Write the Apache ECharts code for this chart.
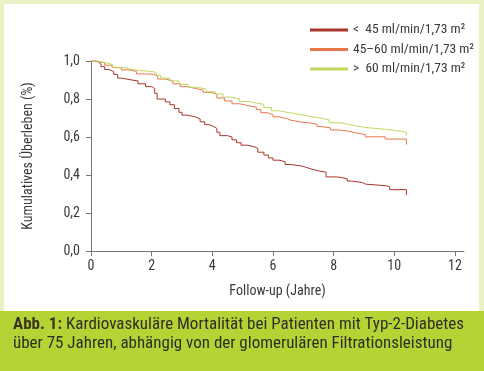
<!DOCTYPE html>
<html>
<head>
<meta charset="utf-8">
<script src="https://cdn.jsdelivr.net/npm/echarts@6/dist/echarts.min.js"></script>
<style>
html,body{margin:0;padding:0;background:#ecf1c4;}
#c{width:484px;height:371px;}
</style>
</head>
<body>
<div id="c"></div>
<script>
var seriesNames = ['<  45 ml/min/1,73 m²', '45–60 ml/min/1,73 m²', '>  60 ml/min/1,73 m²'];
var xTicks = [0, 2, 4, 6, 8, 10, 12];
var redData = [[0,1.0],[0.1,0.995],[0.25,0.985],[0.33,0.97],[0.45,0.955],[0.6,0.945],[0.75,0.93],[0.88,0.91],[1.0,0.9],[1.35,0.895],[1.55,0.88],[1.8,0.865],[2.0,0.855],[2.1,0.83],[2.18,0.80],[2.45,0.785],[2.6,0.77],[2.75,0.75],[2.9,0.73],[3.0,0.715],[3.2,0.705],[3.45,0.695],[3.6,0.68],[3.75,0.665],[3.9,0.655],[4.05,0.645],[4.15,0.625],[4.25,0.607],[4.5,0.6],[4.65,0.585],[4.8,0.57],[4.95,0.557],[5.15,0.548],[5.4,0.54],[5.5,0.52],[5.7,0.505],[5.85,0.49],[6.0,0.478],[6.2,0.47],[6.4,0.455],[6.6,0.447],[6.95,0.44],[7.1,0.43],[7.3,0.42],[7.55,0.415],[7.75,0.39],[8.1,0.387],[8.25,0.38],[8.45,0.368],[8.6,0.36],[8.95,0.352],[9.05,0.343],[9.75,0.338],[9.85,0.323],[10.4,0.295]];
var orangeData = [[0,1.0],[0.2,0.99],[0.45,0.978],[0.7,0.965],[1.0,0.953],[1.25,0.945],[1.5,0.932],[1.8,0.93],[2.05,0.922],[2.2,0.905],[2.45,0.895],[2.7,0.88],[2.95,0.865],[3.2,0.855],[3.45,0.847],[3.7,0.835],[3.95,0.825],[4.15,0.805],[4.4,0.79],[4.65,0.775],[4.9,0.766],[5.15,0.757],[5.45,0.745],[5.6,0.728],[5.8,0.718],[6.0,0.706],[6.2,0.697],[6.45,0.688],[6.6,0.68],[6.9,0.673],[7.25,0.667],[7.45,0.655],[7.6,0.648],[7.9,0.637],[8.2,0.63],[8.5,0.62],[8.8,0.612],[9.05,0.601],[9.7,0.589],[10.4,0.56]];
var greenData = [[0,1.0],[0.2,0.992],[0.45,0.982],[0.7,0.967],[1.0,0.958],[1.3,0.95],[1.6,0.946],[1.95,0.94],[2.15,0.925],[2.3,0.91],[2.6,0.895],[2.9,0.877],[3.2,0.862],[3.5,0.852],[3.8,0.838],[4.1,0.826],[4.35,0.81],[4.6,0.8],[4.9,0.787],[5.2,0.778],[5.45,0.772],[5.7,0.755],[5.95,0.738],[6.2,0.73],[6.45,0.724],[6.7,0.716],[6.95,0.708],[7.25,0.7],[7.55,0.69],[7.85,0.675],[8.2,0.665],[8.55,0.657],[8.8,0.65],[9.05,0.64],[9.75,0.632],[10.1,0.626],[10.4,0.607]];
var colors = ['#a8352b', '#e9774c', '#bfd85e'];
var FONT = '"Roboto Condensed", "Liberation Sans", sans-serif';

var chart = echarts.init(document.getElementById('c'), null, {renderer: 'canvas'});
function mk(name, data, color) {
  return {name: name, type: 'line', step: 'end', data: data, showSymbol: false, symbol: 'none',
    lineStyle: {color: color, width: 1}, itemStyle: {color: color}, animation: false, z: 3};
}
chart.setOption({
  animation: false,
  backgroundColor: '#ecf1c4',
  graphic: [
    {type: 'rect', shape: {x: 4, y: 4, width: 475, height: 308}, style: {fill: '#ffffff'}, z: -10, silent: true},
    {type: 'rect', shape: {x: 0, y: 311, width: 484, height: 60}, style: {fill: '#b5d335'}, z: -10, silent: true},
    {type: 'text', left: 13, top: 315, z: 10, style: {
      text: '{b|Abb. 1:} Kardiovaskuläre Mortalität bei Patienten mit Typ-2-Diabetes\nüber 75 Jahren, abhängig von der glomerulären Filtrationsleistung',
      font: '17px ' + FONT, fill: '#2f2f25', lineHeight: 19,
      rich: {b: {fontWeight: 'bold', fontSize: 17, fontFamily: FONT, fill: '#3a351a', lineHeight: 19}}
    }}
  ],
  grid: {left: 91, right: 20, top: 61, bottom: 120},
  legend: {
    orient: 'vertical', left: 305, top: 17, itemWidth: 38, itemHeight: 3, itemGap: 3.5,
    icon: 'rect', data: seriesNames,
    textStyle: {color: '#3a3a3a', fontSize: 13.5, fontFamily: FONT, lineHeight: 16}
  },
  xAxis: {
    type: 'value', min: 0, max: 12.3, interval: 2,
    name: 'Follow-up (Jahre)', nameLocation: 'middle', nameGap: 33,
    nameTextStyle: {color: '#3a3a3a', fontSize: 14, fontFamily: FONT},
    axisLine: {show: true, lineStyle: {color: '#777', width: 1}},
    axisTick: {show: true, length: 5, lineStyle: {color: '#777'}, customValues: xTicks},
    axisLabel: {color: '#3a3a3a', fontSize: 14, fontFamily: FONT, margin: 8, customValues: xTicks},
    splitLine: {show: false}
  },
  yAxis: {
    type: 'value', min: 0, max: 1, interval: 0.2,
    name: 'Kumulatives Überleben (%)', nameLocation: 'middle', nameGap: 56,
    nameTextStyle: {color: '#3a3a3a', fontSize: 14, fontFamily: FONT},
    axisLine: {show: true, lineStyle: {color: '#777', width: 1}},
    axisTick: {show: true, length: 5, lineStyle: {color: '#777'}},
    axisLabel: {color: '#3a3a3a', fontSize: 14, fontFamily: FONT, margin: 11,
      formatter: function (v) { return v.toFixed(1).replace('.', ','); }},
    splitLine: {show: false}
  },
  series: [
    mk(seriesNames[0], redData, colors[0]),
    mk(seriesNames[1], orangeData, colors[1]),
    mk(seriesNames[2], greenData, colors[2])
  ]
});
</script>
</body>
</html>
